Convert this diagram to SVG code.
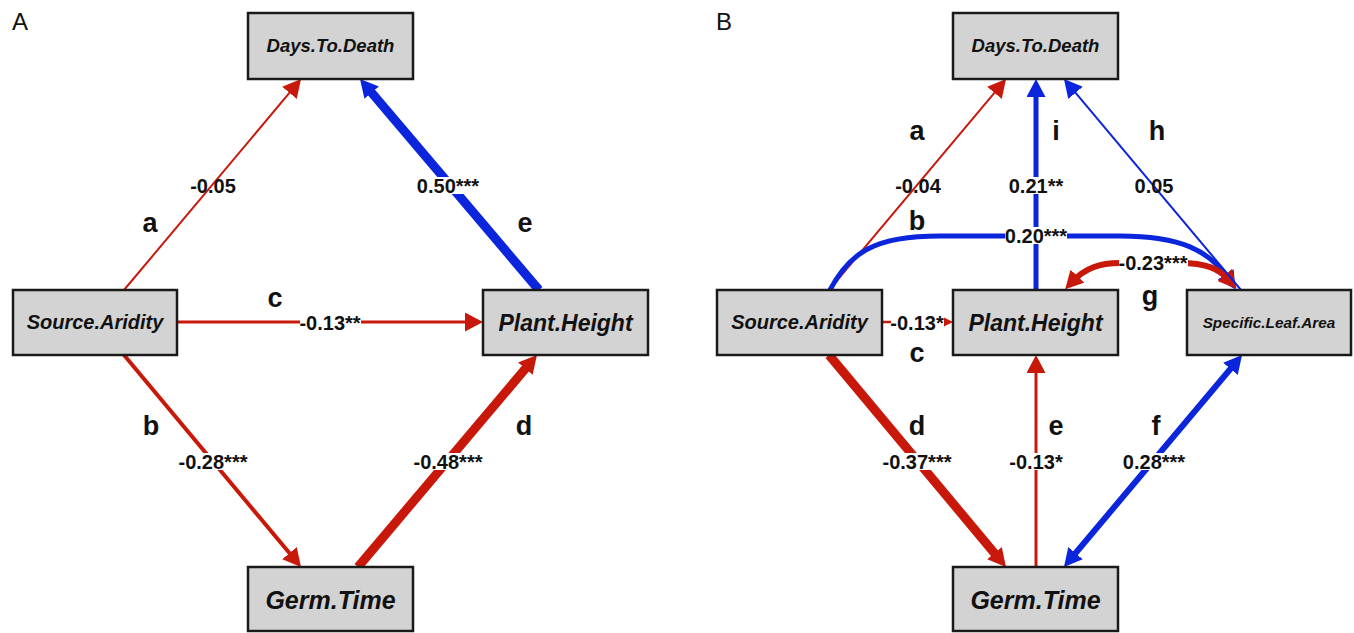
<svg xmlns="http://www.w3.org/2000/svg" width="1354" height="633" viewBox="0 0 1354 633">
<style>
.node rect{fill:#d3d3d3;stroke:#1a1a1a;stroke-width:2.5}
.nt{font-family:"Liberation Sans",Arial,sans-serif;font-weight:bold;font-style:italic;fill:#111;text-anchor:middle}
.r{stroke:#c8180a;fill:none}
.b{stroke:#0a25dc;fill:none}
.el{font-family:"Liberation Sans",Arial,sans-serif;font-weight:bold;font-size:20px;fill:#111;text-anchor:middle}
.bg{fill:#fff}
.lt{font-family:"Liberation Sans",Arial,sans-serif;font-weight:bold;font-size:27px;fill:#111;text-anchor:middle}
.pl{font-family:"Liberation Sans",Arial,sans-serif;font-size:24px;fill:#111}
</style>
<defs>
<marker id="hR" markerUnits="userSpaceOnUse" markerWidth="18" markerHeight="19" refX="8" refY="9.5" orient="auto-start-reverse"><path d="M0,0 L18,9.5 L0,19 z" fill="#c8180a"/></marker>
<marker id="hB" markerUnits="userSpaceOnUse" markerWidth="18" markerHeight="19" refX="8" refY="9.5" orient="auto-start-reverse"><path d="M0,0 L18,9.5 L0,19 z" fill="#0a25dc"/></marker>
<marker id="hRs" markerUnits="userSpaceOnUse" markerWidth="10" markerHeight="10" refX="4" refY="5" orient="auto"><path d="M0,0 L10,5 L0,10 z" fill="#c8180a"/></marker>
</defs>
<rect width="1354" height="633" fill="#fff"/>
<text class="pl" x="12" y="30">A</text>
<text class="pl" x="716" y="30">B</text>

<g id="connectors">
  <!-- Panel A -->
  <line class="r" x1="124" y1="290" x2="294.6" y2="86.7" stroke-width="2" marker-end="url(#hR)"/>
  <line class="b" x1="539" y1="290" x2="366.5" y2="86.6" stroke-width="9" marker-end="url(#hB)"/>
  <line class="r" x1="177" y1="322" x2="473" y2="322" stroke-width="3" marker-end="url(#hR)"/>
  <line class="r" x1="124" y1="355" x2="294.6" y2="559.3" stroke-width="4" marker-end="url(#hR)"/>
  <line class="r" x1="358" y1="567" x2="530.5" y2="362.6" stroke-width="9" marker-end="url(#hR)"/>
  <!-- Panel B -->
  <line class="r" x1="829" y1="290" x2="999.6" y2="86.7" stroke-width="2" marker-end="url(#hR)"/>
  <line class="b" x1="1036" y1="290" x2="1036" y2="89" stroke-width="5" marker-end="url(#hB)"/>
  <path class="b" d="M830,290 C850,252 875,236 940,236 L1120,236 C1180,236 1210,250 1230,281" stroke-width="5" marker-end="url(#hB)"/>
  <path class="r" d="M1072,282 C1085,268 1100,263 1120,263 L1180,263 C1205,263 1219,268 1230,281" stroke-width="6" marker-start="url(#hR)" marker-end="url(#hR)"/>
  <line class="b" x1="1241" y1="290" x2="1070.4" y2="86.7" stroke-width="2" marker-end="url(#hB)"/>
  <line class="r" x1="882" y1="322" x2="947" y2="322" stroke-width="2.5" marker-end="url(#hRs)"/>
  <line class="r" x1="829" y1="355" x2="999.6" y2="559.3" stroke-width="9" marker-end="url(#hR)"/>
  <line class="r" x1="1036" y1="567" x2="1036" y2="365" stroke-width="3" marker-end="url(#hR)"/>
  <line class="b" x1="1070.4" y1="559.3" x2="1235.6" y2="362.7" stroke-width="6" marker-start="url(#hB)" marker-end="url(#hB)"/>

  <!-- edge value labels -->
  <g id="edge-labels">
    <text class="el" x="213" y="193">-0.05</text>
    <rect class="bg" x="417" y="177" width="62" height="17"/><text class="el" x="448" y="193">0.50***</text>
    <rect class="bg" x="300" y="314" width="61" height="17"/><text class="el" x="330" y="330">-0.13**</text>
    <rect class="bg" x="179" y="453" width="69" height="17"/><text class="el" x="213" y="469">-0.28***</text>
    <rect class="bg" x="414" y="453" width="69" height="17"/><text class="el" x="448" y="469">-0.48***</text>

    <text class="el" x="918" y="193">-0.04</text>
    <rect class="bg" x="1009" y="177" width="54" height="17"/><text class="el" x="1036" y="193">0.21**</text>
    <text class="el" x="1154" y="193">0.05</text>
    <rect class="bg" x="1005" y="227" width="62" height="17"/><text class="el" x="1036" y="243">0.20***</text>
    <rect class="bg" x="1119" y="254" width="69" height="17"/><text class="el" x="1153" y="270">-0.23***</text>
    <rect class="bg" x="891" y="314" width="53" height="17"/><text class="el" x="917" y="330">-0.13*</text>
    <rect class="bg" x="883" y="453" width="69" height="17"/><text class="el" x="917" y="469">-0.37***</text>
    <rect class="bg" x="1009" y="453" width="54" height="17"/><text class="el" x="1036" y="469">-0.13*</text>
    <rect class="bg" x="1123" y="453" width="62" height="17"/><text class="el" x="1154" y="469">0.28***</text>
  </g>

  <!-- path letters -->
  <g id="path-letters">
    <text class="lt" x="150" y="232">a</text>
    <text class="lt" x="525" y="232">e</text>
    <text class="lt" x="275" y="307">c</text>
    <text class="lt" x="151" y="435">b</text>
    <text class="lt" x="524" y="435">d</text>

    <text class="lt" x="917" y="140">a</text>
    <text class="lt" x="1056" y="140">i</text>
    <text class="lt" x="1157" y="140">h</text>
    <text class="lt" x="917" y="230">b</text>
    <text class="lt" x="1150" y="305">g</text>
    <text class="lt" x="917" y="362">c</text>
    <text class="lt" x="917" y="435">d</text>
    <text class="lt" x="1056" y="435">e</text>
    <text class="lt" x="1156" y="435">f</text>
  </g>
</g>

<!-- Panel A nodes -->
<g id="A-days" class="node"><rect x="248" y="13" width="165" height="66"/><text class="nt" x="330.5" y="52" font-size="18.5">Days.To.Death</text></g>
<g id="A-source" class="node"><rect x="13" y="290" width="164" height="65"/><text class="nt" x="95" y="329" font-size="20">Source.Aridity</text></g>
<g id="A-plant" class="node"><rect x="483" y="290" width="165" height="65"/><text class="nt" x="565.5" y="331" font-size="23">Plant.Height</text></g>
<g id="A-germ" class="node"><rect x="248" y="567" width="165" height="64"/><text class="nt" x="330.5" y="609" font-size="25">Germ.Time</text></g>

<!-- Panel B nodes -->
<g id="B-days" class="node"><rect x="953" y="13" width="165" height="66"/><text class="nt" x="1035.5" y="52" font-size="18.5">Days.To.Death</text></g>
<g id="B-source" class="node"><rect x="717" y="290" width="165" height="65"/><text class="nt" x="799.5" y="329" font-size="20">Source.Aridity</text></g>
<g id="B-plant" class="node"><rect x="953" y="290" width="165" height="65"/><text class="nt" x="1035.5" y="331" font-size="23">Plant.Height</text></g>
<g id="B-sla" class="node"><rect x="1187" y="290" width="164" height="65"/><text class="nt" x="1269" y="328" font-size="15.3">Specific.Leaf.Area</text></g>
<g id="B-germ" class="node"><rect x="953" y="567" width="165" height="64"/><text class="nt" x="1035.5" y="609" font-size="25">Germ.Time</text></g>
</svg>
